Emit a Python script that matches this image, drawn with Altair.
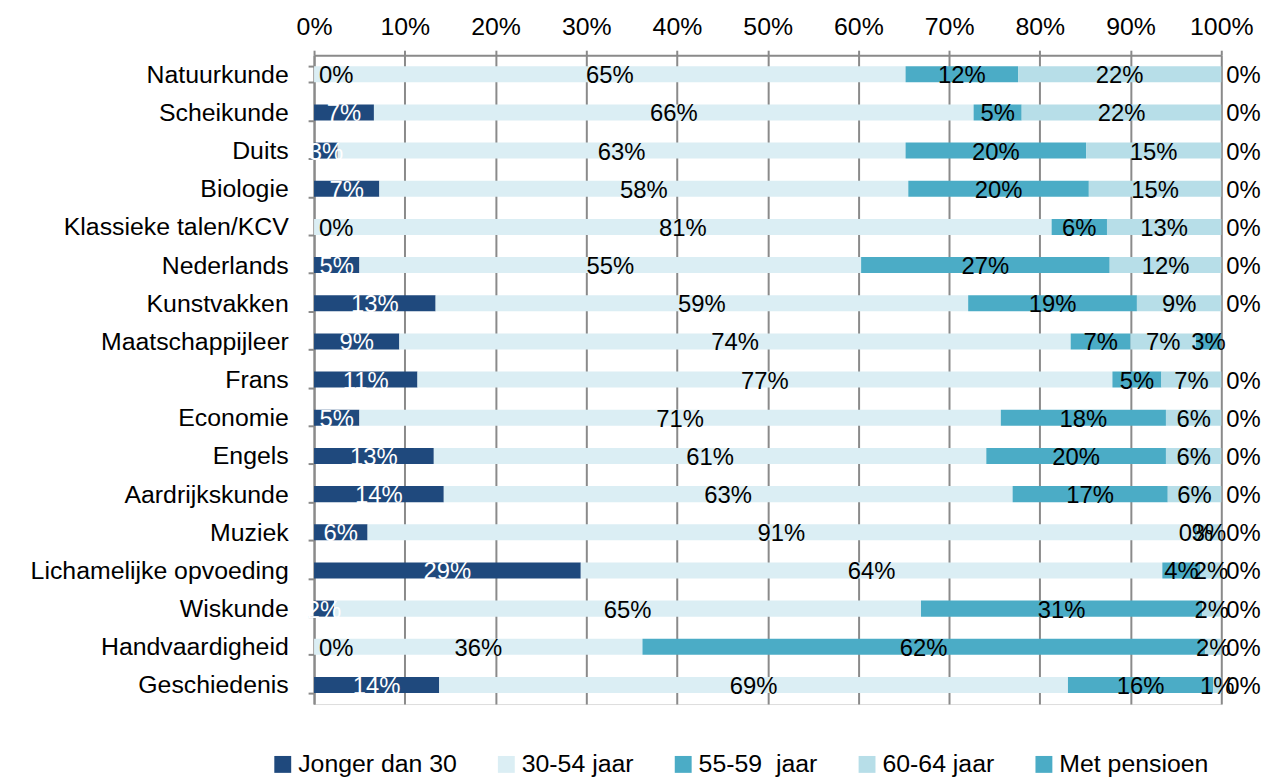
import altair as alt
import pandas as pd

subjects = [
    "Natuurkunde", "Scheikunde", "Duits", "Biologie", "Klassieke talen/KCV",
    "Nederlands", "Kunstvakken", "Maatschappijleer", "Frans", "Economie",
    "Engels", "Aardrijkskunde", "Muziek", "Lichamelijke opvoeding",
    "Wiskunde", "Handvaardigheid", "Geschiedenis",
]
jonger_dan_30 = [0, 6.6, 2.6, 7.2, 0, 5.0, 13.4, 9.4, 11.4, 5.0, 13.2, 14.3, 5.9, 29.4, 2.2, 0, 13.8]
jaar_30_54 = [65.2, 66.1, 62.6, 58.3, 81.3, 55.3, 58.7, 74.0, 76.6, 70.7, 60.9, 62.7, 91.2, 64.1, 64.7, 36.2, 69.3]
jaar_55_59 = [12.4, 5.3, 19.9, 19.9, 6.1, 27.4, 18.6, 6.6, 5.4, 18.2, 19.8, 17.1, 0.2, 4.2, 31.0, 62.0, 16.0]
jaar_60_64 = [22.4, 22.0, 14.9, 14.6, 12.6, 12.3, 9.3, 7.2, 6.6, 6.1, 6.1, 5.9, 2.7, 2.3, 2.1, 1.8, 0.9]
met_pensioen = [0, 0, 0, 0, 0, 0, 0, 2.8, 0, 0, 0, 0, 0, 0, 0, 0, 0]

series_names = ["Jonger dan 30", "30-54 jaar", "55-59\u00a0 jaar", "60-64 jaar", "Met pensioen"]
series_colors = ["#1F497D", "#DBEEF4", "#4BACC6", "#B7DEE8", "#4BACC6"]
x_ticks = list(range(0, 101, 10))

FONT = "Liberation Sans"
GRAY = "#8A8A8A"

rows = []
all_series = [jonger_dan_30, jaar_30_54, jaar_55_59, jaar_60_64, met_pensioen]
for i, subj in enumerate(subjects):
    for k, name in enumerate(series_names):
        v = all_series[k][i]
        if v == 0 and k in (0, 4):
            kind = "edge"
        elif v == 0:
            kind = "mid0"
        else:
            kind = "normal"
        rows.append({"subject": subj, "series": name, "order": k, "value": v, "kind": kind})
df = pd.DataFrame(rows)

y_enc = alt.Y(
    "subject:N",
    sort=subjects,
    scale=alt.Scale(paddingInner=0.58, paddingOuter=0.29),
    axis=alt.Axis(
        title=None, labelFontSize=25, labelFont=FONT, labelColor="black", labelLimit=0,
        labelPadding=20, tickBand="extent", tickSize=6, tickColor=GRAY, tickWidth=2,
        domainColor=GRAY, domainWidth=2, grid=False, minExtent=308, maxExtent=308,
    ),
)

base = alt.Chart(df).transform_stack(
    stack="value", groupby=["subject"], as_=["x0", "x1"],
    sort=[alt.SortField("order", order="ascending")],
).transform_calculate(
    mid="(datum.x0 + datum.x1) / 2",
    lbl="format(datum.value, '.0f') + '%'",
    tcol="datum.order == 0 && datum.value > 0 ? 'white' : 'black'",
)

bars = base.mark_bar().encode(
    y=y_enc,
    x=alt.X(
        "x0:Q",
        scale=alt.Scale(domain=[0, 100], nice=False, zero=True),
        axis=alt.Axis(
            orient="top", values=x_ticks, labelExpr="datum.value + '%'", title=None,
            labelFontSize=25, labelFont=FONT, labelColor="black", labelPadding=11,
            labelFlush=False, labelOverlap=False,
            grid=True, gridColor=GRAY, gridWidth=2, domainColor=GRAY, domainWidth=2,
            tickColor=GRAY, tickWidth=2, tickSize=5, minExtent=45, maxExtent=45,
        ),
    ),
    x2="x1:Q",
    color=alt.Color(
        "series:N",
        sort=series_names,
        scale=alt.Scale(domain=series_names, range=series_colors),
        legend=alt.Legend(
            orient="none", legendX=-44, legendY=701, direction="horizontal",
            title=None, symbolType="square", symbolSize=289, symbolStrokeWidth=0,
            labelFontSize=25, labelFont=FONT, labelColor="black", labelOffset=3,
            columnPadding=37, padding=0,
        ),
    ),
)

common_text = dict(fontSize=24, font=FONT, baseline="middle", dy=2)

text_normal = base.transform_filter("datum.kind == 'normal'").mark_text(align="center", **common_text).encode(
    y=alt.Y("subject:N", sort=subjects),
    x=alt.X("mid:Q"),
    text="lbl:N",
    color=alt.Color("tcol:N", scale=None),
)
text_edge = base.transform_filter("datum.kind == 'edge'").mark_text(align="left", dx=5, **common_text).encode(
    y=alt.Y("subject:N", sort=subjects),
    x=alt.X("x0:Q"),
    text="lbl:N",
    color=alt.value("black"),
)
text_mid0 = base.transform_filter("datum.kind == 'mid0'").mark_text(align="right", dx=-2, **common_text).encode(
    y=alt.Y("subject:N", sort=subjects),
    x=alt.X("x0:Q"),
    text="lbl:N",
    color=alt.value("black"),
)

chart = alt.layer(bars, text_normal, text_edge, text_mid0).properties(
    width=913, height=653,
    padding={"left": 0, "top": 0, "right": 5, "bottom": 5},
).configure_view(stroke=None).configure(font=FONT)

chart.save("out.html", embed_options={"renderer": "svg", "actions": False})
